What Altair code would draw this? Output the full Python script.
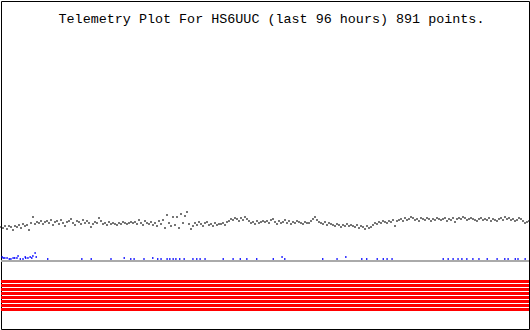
import altair as alt
import numpy as np
import pandas as pd

TITLE = "Telemetry Plot For HS6UUC (last 96 hours) 891 points."

# Analog channel 1 (black), evenly spread over 96 hours
ch1_values = [
    34, 33, 35, 32, 35, 34, 31, 35, 34, 36, 33, 37, 35, 36, 31, 38, 44, 37, 39, 38, 40, 37,
    39, 40, 38, 41, 36, 39, 40, 37, 41, 38, 35, 39, 40, 42, 38, 36, 40, 39, 37, 41, 38, 40,
    38, 34, 37, 39, 38, 43, 40, 37, 38, 36, 39, 37, 38, 37, 36, 38, 37, 39, 38, 37, 38, 39,
    38, 39, 37, 41, 38, 36, 40, 38, 37, 39, 36, 38, 35, 40, 37, 41, 33, 46, 38, 35, 44, 36,
    44, 33, 47, 38, 45, 49, 37, 32, 35, 38, 36, 39, 37, 35, 38, 39, 36, 37, 35, 38, 36, 37,
    37, 38, 36, 39, 40, 42, 41, 43, 42, 40, 43, 41, 44, 42, 40, 38, 39, 37, 40, 38, 39, 40,
    39, 40, 38, 41, 42, 39, 37, 40, 38, 39, 41, 38, 40, 37, 39, 38, 40, 39, 38, 37, 39, 38,
    38, 40, 42, 44, 41, 39, 38, 37, 39, 36, 38, 37, 36, 35, 37, 36, 34, 36, 35, 37, 35, 36,
    35, 34, 36, 33, 35, 34, 32, 35, 33, 34, 36, 38, 37, 39, 38, 40, 39, 38, 40, 39, 41, 35,
    40, 41, 42, 40, 43, 41, 42, 44, 43, 41, 42, 40, 43, 42, 41, 43, 42, 40, 42, 41, 43, 42,
    41, 42, 43, 40, 42, 41, 43, 39, 42, 43, 42, 44, 43, 41, 42, 43, 42, 41, 40, 42, 43, 41,
    42, 41, 43, 40, 42, 41, 40, 42, 43, 41, 44, 42, 43, 41, 42, 40, 41, 43, 42, 40, 38, 39, 40,
]
ch1_hours = np.linspace(0, 96, len(ch1_values))

# Analog channel 2 (blue): only the non-zero readings that show above the baseline
ch2_hours = [
    0.2, 0.4, 0.7, 1.1, 1.5, 1.8, 2.2, 2.5, 2.9, 3.1, 3.5, 4.0, 4.4, 4.5, 4.9, 5.3, 5.6, 5.8, 6.2, 6.4, 8.5,
    14.7, 16.4, 20.0, 22.4, 23.6, 24.2, 26.0, 27.6, 28.5, 29.1, 30.2, 30.7, 31.3, 31.8, 32.5, 33.3,
    34.9, 35.6, 36.2, 37.1, 40.4, 42.2, 43.5, 44.7, 46.5, 49.5, 51.1, 51.6, 58.5, 61.1, 62.7, 65.6,
    66.5, 68.4, 69.5, 70.2, 71.1, 80.4, 81.3, 82.2, 83.1, 83.8, 84.7, 85.8, 86.9, 88.4, 90.2, 91.6,
    92.2, 93.5, 94.0, 95.3,
]
ch2_values = [
    4, 3, 3, 3, 2, 2, 3, 3, 3, 5, 2, 2, 4, 3, 3, 4, 3, 5, 8, 4, 2,
    2, 2, 2, 3, 2, 2, 2, 3, 2, 2, 2, 2, 2, 2, 2, 2,
    2, 2, 2, 2, 2, 2, 2, 2, 2, 2, 4, 2, 2, 2, 4, 2,
    2, 2, 2, 2, 2, 2, 2, 2, 2, 2, 2, 2, 2, 2, 2, 2,
    2, 2, 2, 2,
]

# Digital bits (all set)
bits = ["B1", "B2", "B3", "B4", "B5", "B6", "B7", "B8"]
bit_states = [1, 1, 1, 1, 1, 1, 1, 1]

W, H = 528, 328

xs = alt.Scale(domain=[0, 96], nice=False, zero=False)
ys = alt.Scale(domain=[-68, 260], nice=False, zero=False)

df1 = pd.DataFrame({"t": ch1_hours, "v": ch1_values})
df2 = pd.DataFrame({"t": ch2_hours, "v": ch2_values})
dfb = pd.DataFrame({"bit": bits, "on": bit_states, "t0": [0] * 8, "t1": [96] * 8})
dfb = dfb[dfb["on"] == 1]
dfz = pd.DataFrame({"v": [0]})
dft = pd.DataFrame({"title": [TITLE]})

base_line = alt.Chart(dfz).mark_rule(color="#aaaaaa", strokeWidth=2).encode(
    y=alt.Y("v:Q", scale=ys, axis=None)
)

ch1 = alt.Chart(df1).mark_tick(
    orient="vertical", size=2, thickness=1.2, color="#1a1a1a", opacity=1
).encode(
    x=alt.X("t:Q", scale=xs, axis=None),
    y=alt.Y("v:Q", scale=ys, axis=None),
)

ch2 = alt.Chart(df2).mark_tick(
    orient="vertical", size=2, thickness=1.2, color="#0000ff", opacity=1
).encode(
    x=alt.X("t:Q", scale=xs, axis=None),
    y=alt.Y("v:Q", scale=ys, axis=None),
)

bars = alt.Chart(dfb).mark_rect(color="#ff0000").encode(
    x=alt.X("t0:Q", scale=xs, axis=None),
    x2="t1:Q",
    y=alt.Y(
        "bit:O",
        sort=bits,
        scale=alt.Scale(range=[279, 310], paddingInner=0.25, paddingOuter=0),
        axis=None,
    ),
)

title = alt.Chart(dft).mark_text(
    font="Liberation Mono", fontSize=13.4, color="black", align="center", baseline="alphabetic"
).encode(text="title:N", x=alt.value(270.5), y=alt.value(22))

chart = (
    alt.layer(bars, base_line, ch1, ch2, title)
    .resolve_scale(y="independent")
    .properties(
        width=W,
        height=H,
        padding={"left": 1, "top": 1, "right": 1, "bottom": 1},
        autosize=alt.AutoSizeParams(type="none"),
        background="white",
    )
    .configure_view(stroke="black", strokeWidth=1)
)

chart.save("out.html", embed_options={"renderer": "svg", "actions": False})
